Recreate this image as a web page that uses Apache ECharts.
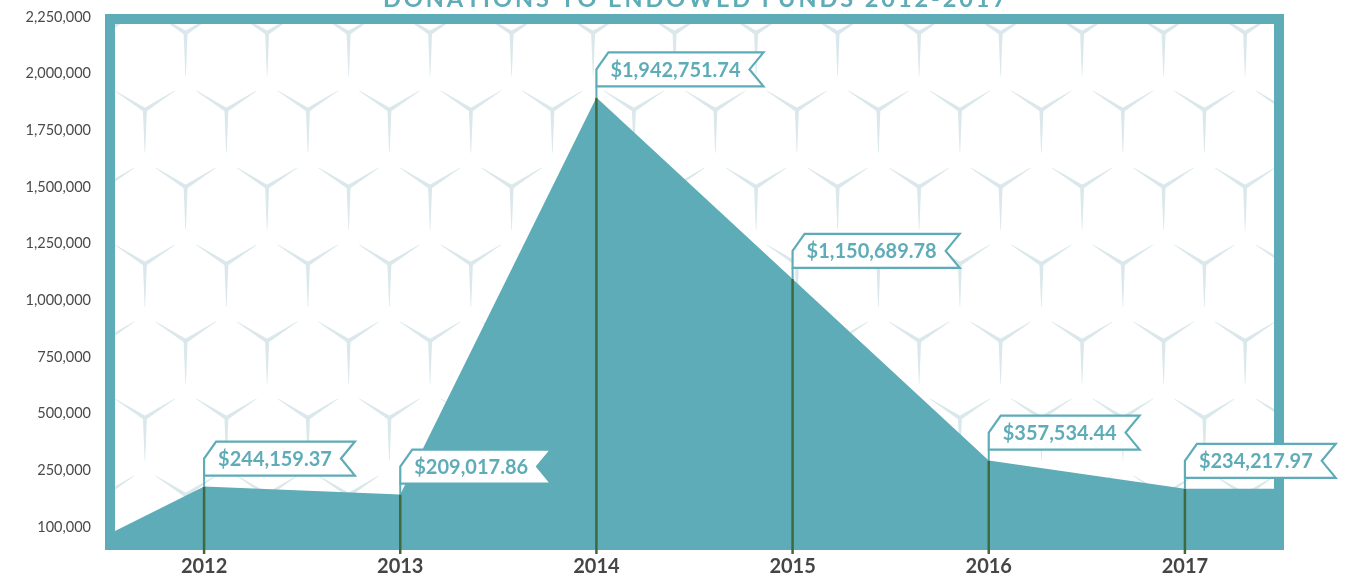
<!DOCTYPE html>
<html>
<head>
<meta charset="utf-8">
<title>Donations to Endowed Funds 2012-2017</title>
<script src="https://cdn.jsdelivr.net/npm/echarts@6/dist/echarts.min.js"></script>
<style>
  html, body { margin: 0; padding: 0; background: #fff; }
  #chart { width: 1350px; height: 581px; }
</style>
</head>
<body>
<div id="chart"></div>
<script>
const years = ['2012', '2013', '2014', '2015', '2016', '2017'];
const donations = [244159.37, 209017.86, 1942751.74, 1150689.78, 357534.44, 234217.97];
const flagLabels = ['$244,159.37', '$209,017.86', '$1,942,751.74', '$1,150,689.78', '$357,534.44', '$234,217.97'];
// the filled area starts low at the left frame and runs flat after 2017
const startValue = 31000;
// tick labels printed on the y axis (evenly spaced, first one reads 100,000)
const yTickLabels = ['100,000', '250,000', '500,000', '750,000', '1,000,000',
  '1,250,000', '1,500,000', '1,750,000', '2,000,000', '2,250,000'];
const title = 'DONATIONS TO ENDOWED FUNDS 2012-2017';

const teal = '#5eacb7';
const green = '#3f6a3d';
const dataMin = -32700;
const dataMax = 2293800;

const measureCtx = document.createElement('canvas').getContext('2d');
function textWidth(str, font) {
  measureCtx.font = font;
  return measureCtx.measureText(str).width;
}

// cube-ish "Y" background pattern
function makePattern() {
  const W = 163, H = 154;
  const c = document.createElement('canvas');
  c.width = W; c.height = H;
  const ctx = c.getContext('2d');
  ctx.fillStyle = '#ffffff';
  ctx.fillRect(0, 0, W, H);
  ctx.fillStyle = '#dae8eb';
  const centers = [[63.4, 110], [144.9, 110], [22.6, 33], [104.1, 33]];
  // arm end point and how much of it is drawn
  const arms = [[0, 51, 0.84], [-40.75, -26, 0.74], [40.75, -26, 0.74]];
  centers.forEach(([cx0, cy0]) => {
    for (let ox = -1; ox <= 1; ox++) {
      for (let oy = -1; oy <= 1; oy++) {
        const cx = cx0 + ox * W, cy = cy0 + oy * H;
        arms.forEach(([ax, ay, f]) => {
          const len = Math.hypot(ax, ay);
          const ux = ax / len, uy = ay / len;
          const nx = -uy, ny = ux;
          const l = len * f;
          ctx.beginPath();
          ctx.moveTo(cx + nx * 2, cy + ny * 2);
          ctx.lineTo(cx + ux * l + nx * 0.25, cy + uy * l + ny * 0.25);
          ctx.lineTo(cx + ux * l - nx * 0.25, cy + uy * l - ny * 0.25);
          ctx.lineTo(cx - nx * 2, cy - ny * 2);
          ctx.closePath();
          ctx.fill();
        });
      }
    }
  });
  return c;
}

function renderFlag(params, api) {
  const i = api.value(0);
  const p = api.coord([i, api.value(1)]);
  const base = api.coord([i, dataMin]);
  const label = flagLabels[params.dataIndex];
  const font = 'bold 20px Lato';
  const tw = textWidth(label, font);
  const x = p[0], y = p[1];
  const bottom = y - 11, top = bottom - 34, mid = top + 17;
  const right = x + tw + 37;
  return {
    type: 'group',
    children: [
      { type: 'line', shape: { x1: x, y1: base[1] + 4, x2: x, y2: y },
        style: { stroke: green, lineWidth: 2.5 } },
      { type: 'line', shape: { x1: x, y1: y, x2: x, y2: bottom },
        style: { stroke: teal, lineWidth: 2 } },
      { type: 'polygon',
        shape: { points: [[x, bottom], [x, mid], [x + 12, top], [right, top], [right - 14, mid], [right, bottom]] },
        style: { fill: '#fff', stroke: teal, lineWidth: 2.2, lineJoin: 'miter' } },
      { type: 'text',
        style: { x: x + 14, y: mid + 1, text: label, font: font, fill: teal, align: 'left', verticalAlign: 'middle' } }
    ]
  };
}

const option = {
  animation: false,
  title: {
    text: title.split('').join('\u2009'),
    left: 378,
    top: -18,
    textStyle: { color: teal, fontSize: 23.5, fontWeight: 'bold', fontFamily: 'Lato' }
  },
  grid: [
    { // frame + pattern
      left: 110, right: 71, top: 19, bottom: 36,
      show: true,
      backgroundColor: { image: makePattern(), repeat: 'repeat' },
      borderColor: teal,
      borderWidth: 10
    },
    { left: 106, right: 67, top: 17, bottom: 54 },  // tick labels
    { left: 106, right: 67, top: 17, bottom: 31 }   // data
  ],
  xAxis: [
    { gridIndex: 0, type: 'value', show: false },
    { gridIndex: 1, type: 'value', show: false },
    {
      gridIndex: 2,
      type: 'category',
      data: years,
      boundaryGap: true,
      axisLine: { show: false },
      axisTick: { show: false },
      axisLabel: { margin: 7, color: '#454545', fontSize: 20, fontWeight: 'bold', fontFamily: 'Lato' }
    },
    { gridIndex: 2, type: 'value', min: -0.5, max: 5.5, show: false }
  ],
  yAxis: [
    { gridIndex: 0, type: 'value', show: false },
    {
      gridIndex: 1,
      type: 'value',
      min: 0,
      max: 2250000,
      interval: 250000,
      axisLine: { show: false },
      axisTick: { show: false },
      splitLine: { show: false },
      axisLabel: {
        margin: 15,
        color: '#4a4a4a',
        fontSize: 14.5,
        fontFamily: 'Lato',
        formatter: v => yTickLabels[Math.round(v / 250000)]
      }
    },
    { gridIndex: 2, type: 'value', min: dataMin, max: dataMax, show: false }
  ],
  series: [
    {
      type: 'line',
      xAxisIndex: 3,
      yAxisIndex: 2,
      data: [[-0.5, startValue]].concat(donations.map((v, i) => [i, v]), [[5.5, donations[5]]]),
      showSymbol: false,
      lineStyle: { width: 0 },
      itemStyle: { color: teal },
      areaStyle: { color: teal, opacity: 1, origin: 'start' },
      z: 2
    },
    {
      type: 'custom',
      xAxisIndex: 3,
      yAxisIndex: 2,
      data: donations.map((v, i) => [i, v]),
      renderItem: renderFlag,
      clip: false,
      z: 5
    }
  ]
};

const myChart = echarts.init(document.getElementById('chart'));
myChart.setOption(option);
</script>
</body>
</html>
